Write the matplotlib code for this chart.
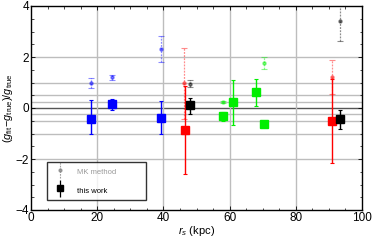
import matplotlib
matplotlib.use("Agg")
import matplotlib.pyplot as plt
from matplotlib.ticker import MultipleLocator
from matplotlib.legend_handler import HandlerErrorbar
from matplotlib.container import ErrorbarContainer

plt.rcParams['font.family'] = ['Liberation Sans', 'DejaVu Sans']
plt.rcParams['mathtext.fontset'] = 'custom'
plt.rcParams['mathtext.rm'] = 'Liberation Sans'
plt.rcParams['mathtext.it'] = 'Liberation Sans:italic'

# "this work" points
tw_x = [18.0, 24.5, 39.3, 46.5, 48.0, 57.9, 61.0, 68.0, 70.4, 91.0, 93.4]
tw_y = [-0.42, 0.16, -0.38, -0.86, 0.12, -0.32, 0.23, 0.62, -0.63, -0.52, -0.42]
tw_lo = [0.58, 0.22, 0.63, 1.74, 0.35, 0.18, 0.89, 0.55, 0.05, 1.64, 0.42]
tw_hi = [0.73, 0.20, 0.67, 1.74, 0.29, 0.16, 0.85, 0.50, 0.05, 1.64, 0.33]
tw_c = ['#0000ff', '#0000ff', '#0000ff', '#ff0000', '#000000',
        '#00ee00', '#00ee00', '#00ee00', '#00ee00', '#ff0000', '#000000']

# MK method points
mk_x = [18.0, 24.5, 39.3, 46.2, 48.0, 57.9, 70.4, 91.0, 93.5]
mk_y = [0.99, 1.20, 2.32, 0.97, 0.96, 0.23, 1.77, 1.22, 3.43]
mk_e = [0.19, 0.10, 0.51, 1.39, 0.12, 0.05, 0.23, 0.67, 0.82]
mk_c = ['#0000ff', '#0000ff', '#0000ff', '#ff0000', '#000000',
        '#00ee00', '#00ee00', '#ff0000', '#000000']

fig = plt.figure(figsize=(3.74, 2.40), dpi=100)
ax = fig.add_axes([31/374, 30/240, 331/374, 204/240])

for y in [-2, -1, -0.5, -0.25, 0.25, 0.5, 1, 2]:
    ax.axhline(y, color='#bdbdbd', lw=1.0, zorder=0)
ax.axhline(0, color='#555555', lw=1.0, zorder=0)
for x in [20, 40, 60, 80]:
    ax.axvline(x, color='#bdbdbd', lw=1.0, zorder=0)

for x, y, e, c in zip(mk_x, mk_y, mk_e, mk_c):
    eb = ax.errorbar(x, y, yerr=e, fmt='o', ms=2.2, color=c, alpha=0.45,
                     ecolor=c, elinewidth=0.9, capsize=2, capthick=0.8, zorder=2)
    eb[-1][0].set_linestyle((0, (1.5, 1)))

for x, y, lo, hi, c in zip(tw_x, tw_y, tw_lo, tw_hi, tw_c):
    ax.errorbar(x, y, yerr=[[lo], [hi]], fmt='s', ms=5.2, color=c, ecolor=c,
                elinewidth=1.0, capsize=1.5, capthick=0.8, zorder=3)

ax.set_xlim(0, 100)
ax.set_ylim(-4, 4)
ax.xaxis.set_major_locator(MultipleLocator(20))
ax.xaxis.set_minor_locator(MultipleLocator(5))
ax.yaxis.set_major_locator(MultipleLocator(2))
ax.yaxis.set_minor_locator(MultipleLocator(0.5))
ax.tick_params(which='both', direction='in', top=True, right=True, labelsize=8.5, pad=1.5)
ax.tick_params(which='major', length=3, width=0.6)
ax.tick_params(which='minor', length=1.8, width=0.5)
for s in ax.spines.values():
    s.set_linewidth(1.0)

ax.set_xlabel(r'$r_s$ (kpc)', fontsize=8, labelpad=0)
ax.set_ylabel(r'$(g_{\rm fit}\!-\!g_{\rm true})/g_{\rm true}$', fontsize=7.8, labelpad=0)

# legend
mk_h = ax.errorbar([], [], yerr=[], fmt='o', ms=2, color='#888888', alpha=0.8,
                   elinewidth=0.8, capsize=2)
mk_h[-1][0].set_linestyle((0, (1.5, 1)))
tw_h = ax.errorbar([], [], yerr=[], fmt='s', ms=5, color='black', elinewidth=0.9, capsize=3)
leg = ax.legend([mk_h, tw_h], ['MK method', 'this work'], loc='lower left',
                bbox_to_anchor=(16/331, 10/204, 99/331, 50/204), mode='expand',
                fontsize=5.5, frameon=True, fancybox=False, edgecolor='black',
                handlelength=2.5, handleheight=2.2, handletextpad=1.0,
                borderpad=0.45, labelspacing=0.7, borderaxespad=0,
                handler_map={ErrorbarContainer: HandlerErrorbar(xerr_size=0.5, yerr_size=1.1)})
leg.get_frame().set_linewidth(1.0)
leg.get_texts()[0].set_color('#999999')

fig.savefig('out.png', dpi=100)
